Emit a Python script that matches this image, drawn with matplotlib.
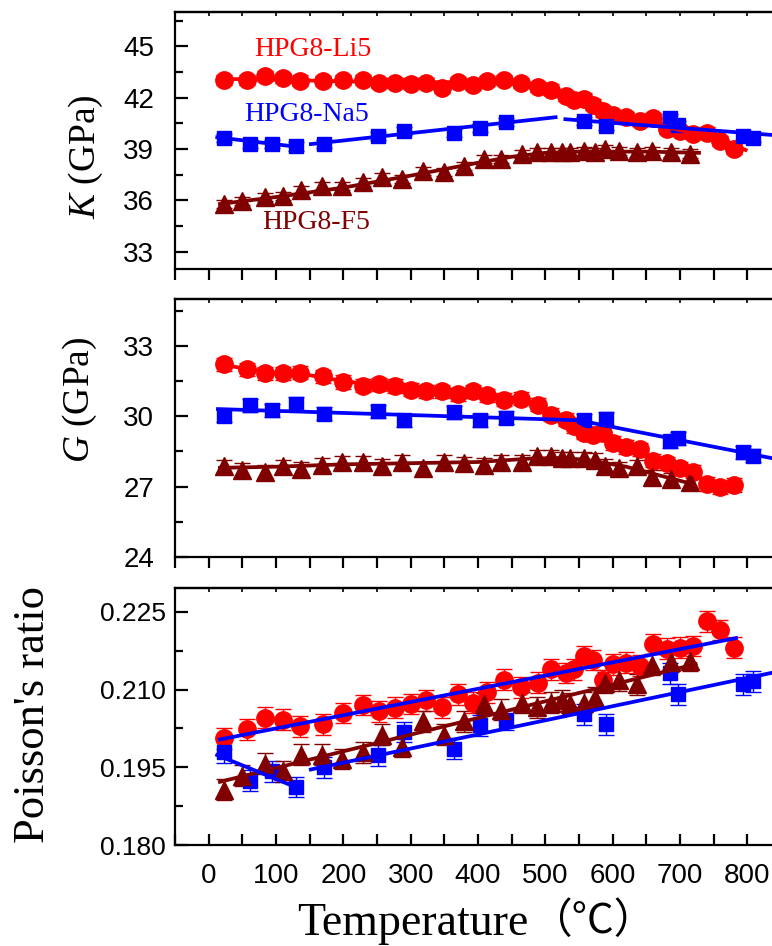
import matplotlib
matplotlib.use("Agg")
import matplotlib.pyplot as plt
from matplotlib.ticker import MultipleLocator, FormatStrFormatter
import numpy as np

plt.rcParams['mathtext.fontset'] = 'custom'
plt.rcParams['mathtext.rm'] = 'Liberation Serif'
plt.rcParams['mathtext.it'] = 'Liberation Serif:italic'

# ---------------- data ----------------
T_li = [23, 57, 83, 111, 136, 170, 200, 229, 253, 277, 300, 323, 347, 370, 393, 414, 439, 464,
        489, 509, 530, 543, 557, 571, 586, 600, 620, 640, 660, 680, 700, 720, 740, 760, 780]
T_na = [23, 61, 94, 130, 171, 251, 290, 365, 403, 442, 557, 590, 685, 697, 794, 809]
T_f = [23, 50, 84, 110, 137, 169, 198, 229, 257, 287, 319, 350, 379, 409, 434, 466, 487, 509,
       525, 537, 557, 574, 589, 610, 636, 659, 686, 715]

K_li = [43.02, 43.05, 43.25, 43.15, 43.0, 42.96, 43.02, 43.05, 42.86, 42.86, 42.82, 42.86, 42.57,
        42.9, 42.76, 42.96, 43.05, 42.86, 42.61, 42.47, 42.09, 41.89, 41.95, 41.6, 41.2, 41.0,
        40.87, 40.64, 40.79, 40.19, 40.05, 39.86, 39.96, 39.47, 38.99]
K_na = [39.63, 39.28, 39.28, 39.15, 39.28, 39.76, 40.06, 39.96, 40.25, 40.6, 40.62, 40.35, 40.79,
        40.42, 39.76, 39.63]
K_f = [35.8, 35.99, 36.18, 36.28, 36.61, 36.86, 36.86, 37.06, 37.35, 37.25, 37.73, 37.64, 38.02,
       38.41, 38.41, 38.7, 38.8, 38.85, 38.8, 38.8, 38.89, 38.8, 38.99, 38.89, 38.8, 38.89, 38.8, 38.74]

G_li = [32.21, 32.0, 31.83, 31.83, 31.86, 31.71, 31.46, 31.31, 31.36, 31.29, 31.14, 31.07, 31.07,
        30.93, 31.07, 30.89, 30.71, 30.74, 30.5, 30.07, 29.86, 29.57, 29.29, 29.21, 29.29, 28.86,
        28.69, 28.6, 28.11, 28.0, 27.79, 27.64, 27.11, 26.97, 27.07]
G_na = [30.03, 30.46, 30.26, 30.54, 30.11, 30.21, 29.83, 30.17, 29.83, 29.93, 29.83, 29.89, 28.93,
        29.07, 28.46, 28.31]
G_f = [27.86, 27.71, 27.64, 27.86, 27.76, 27.93, 28.03, 28.03, 27.89, 28.07, 27.79, 28.07, 28.0,
       27.93, 28.07, 28.07, 28.29, 28.29, 28.21, 28.21, 28.21, 28.14, 27.89, 27.79, 27.86, 27.43,
       27.31, 27.21]

P_li = [0.2006, 0.2023, 0.2046, 0.2042, 0.2029, 0.2033, 0.2055, 0.2070, 0.2058, 0.2065, 0.2072,
        0.2079, 0.2066, 0.2091, 0.2075, 0.2095, 0.2119, 0.2104, 0.2113, 0.2139, 0.2132, 0.2139,
        0.2164, 0.2157, 0.2118, 0.2149, 0.2152, 0.2146, 0.2188, 0.2179, 0.2181, 0.2184, 0.2232,
        0.2215, 0.2181]
P_na = [0.1979, 0.1924, 0.1942, 0.1912, 0.1950, 0.1973, 0.2018, 0.1986, 0.2031, 0.2041, 0.2052,
        0.2033, 0.2131, 0.2091, 0.2110, 0.2116]
P_f = [0.1907, 0.1934, 0.1957, 0.1942, 0.1974, 0.1974, 0.1966, 0.1979, 0.2013, 0.1989, 0.2039,
       0.2013, 0.2039, 0.2073, 0.2061, 0.2075, 0.2066, 0.2075, 0.2079, 0.2073, 0.2075, 0.2084,
       0.2113, 0.2118, 0.2110, 0.2148, 0.2153, 0.2155]

# error bar half-widths
K_err = 0.3
G_err = 0.28
P_err = 0.002

# fit lines
K_li_fit_x = [11, 100, 200, 300, 400, 450, 500, 540, 580, 620, 660, 700, 740, 770, 800]
K_li_fit_y = [43.1, 43.05, 42.95, 42.9, 42.9, 42.85, 42.5, 41.9, 41.2, 40.8, 40.5, 40.1, 39.8, 39.45, 38.9]
K_na_fit = [([10, 140], [39.7, 39.09]), ([149, 518], [39.28, 40.87]), ([527, 838], [40.75, 39.82])]
K_f_fit_x = [14, 100, 200, 300, 400, 450, 500, 550, 650, 731]
K_f_fit_y = [35.78, 36.2, 36.75, 37.45, 38.2, 38.55, 38.78, 38.85, 38.85, 38.78]

G_li_fit_x = [11, 50, 100, 150, 200, 300, 400, 450, 480, 520, 560, 600, 650, 700, 740, 780]
G_li_fit_y = [32.25, 32.05, 31.85, 31.75, 31.5, 31.15, 30.95, 30.8, 30.6, 30.0, 29.4, 28.9, 28.3, 27.8, 27.2, 27.0]
G_na_fit_x = [11, 549, 839]
G_na_fit_y = [30.31, 29.83, 28.2]
G_f_fit_x = [14, 100, 200, 300, 400, 480, 520, 560, 620, 680, 715]
G_f_fit_y = [27.8, 27.85, 27.95, 28.0, 28.05, 28.2, 28.22, 28.15, 27.85, 27.4, 27.14]

P_na_fit = [([10, 140], [0.1975, 0.1906]), ([149, 839], [0.1945, 0.2133])]
P_li_fit = ([14, 786], [0.2003, 0.2200])
P_f_fit = ([14, 726], [0.1921, 0.2150])

x_ticks = [0, 100, 200, 300, 400, 500, 600, 700, 800]

RED = '#ff0000'
BLUE = '#0000ff'
DRED = '#800000'

# ---------------- figure ----------------
W, H = 772, 946
fig = plt.figure(figsize=(W / 100, H / 100), dpi=100)

def rect(top, bottom):
    return [175 / W, 1 - bottom / H, 606 / W, (bottom - top) / H]

ax1 = fig.add_axes(rect(12, 269))
ax2 = fig.add_axes(rect(299, 557))
ax3 = fig.add_axes(rect(588, 845))

def pts(ax, x, y, err, color, marker, ms):
    ax.errorbar(x, y, yerr=err, fmt=marker, color=color, ms=ms, mec=color,
                ecolor=color, elinewidth=1.0, capsize=5.5, capthick=1.0, zorder=3)

def fitline(ax, x, y, color):
    ax.plot(x, y, '-', color=color, lw=2.7, zorder=4, solid_capstyle='butt')

MS_O, MS_S, MS_T = 12.5, 10.5, 12.5

# K panel
pts(ax1, T_li, K_li, K_err, RED, 'o', MS_O)
pts(ax1, T_na, K_na, K_err * 0.8, BLUE, 's', MS_S)
pts(ax1, T_f, K_f, K_err * 0.8, DRED, '^', MS_T)
fitline(ax1, K_li_fit_x, K_li_fit_y, RED)
fitline(ax1, K_f_fit_x, K_f_fit_y, DRED)
for xs, ys in K_na_fit:
    fitline(ax1, xs, ys, BLUE)

# G panel
pts(ax2, T_li, G_li, G_err, RED, 'o', MS_O)
pts(ax2, T_na, G_na, G_err, BLUE, 's', MS_S)
pts(ax2, T_f, G_f, G_err, DRED, '^', MS_T)
fitline(ax2, G_li_fit_x, G_li_fit_y, RED)
fitline(ax2, G_f_fit_x, G_f_fit_y, DRED)
fitline(ax2, G_na_fit_x, G_na_fit_y, BLUE)

# Poisson panel
pts(ax3, T_li, P_li, P_err, RED, 'o', MS_O)
pts(ax3, T_na, P_na, P_err, BLUE, 's', MS_S)
pts(ax3, T_f, P_f, P_err, DRED, '^', MS_T)
fitline(ax3, P_f_fit[0], P_f_fit[1], DRED)
fitline(ax3, P_li_fit[0], P_li_fit[1], BLUE)
for xs, ys in P_na_fit:
    fitline(ax3, xs, ys, BLUE)

# axes formatting
ylims = [(32, 47), (24, 35), (0.180, 0.2296)]
ymaj = [3, 3, 0.015]
ymin = [1.5, 1.5, 0.0075]
yfmt = ['%d', '%d', '%.3f']
ypad = [15, 15, 6.5]
ysize = [20, 20, 19]
for i, ax in enumerate([ax1, ax2, ax3]):
    ax.set_xlim(-50, 850)
    ax.set_ylim(*ylims[i])
    ax.xaxis.set_major_locator(MultipleLocator(100))
    ax.xaxis.set_minor_locator(MultipleLocator(50))
    ax.yaxis.set_major_locator(MultipleLocator(ymaj[i]))
    ax.yaxis.set_minor_locator(MultipleLocator(ymin[i]))
    ax.yaxis.set_major_formatter(FormatStrFormatter(yfmt[i]))
    for sp in ax.spines.values():
        sp.set_linewidth(1.6)
    ax.tick_params(axis='y', which='both', direction='in', width=1.6, left=True, right=False,
                   labelsize=ysize[i], pad=ypad[i])
    ax.tick_params(axis='y', which='major', length=9)
    ax.tick_params(axis='y', which='minor', length=6)
    xdir = 'in' if i == 2 else 'out'
    ax.tick_params(axis='x', which='both', direction=xdir, length=8, width=1.6, top=False,
                   labelbottom=(i == 2), labelsize=20, pad=13)
    sec = ax.secondary_xaxis('top')
    sec.xaxis.set_major_locator(MultipleLocator(50))
    sec.tick_params(axis='x', direction='in', length=3, width=1.2, labeltop=False)
    sec.spines['top'].set_linewidth(1.6)
    for lab in ax.get_xticklabels() + ax.get_yticklabels():
        lab.set_fontfamily(['Liberation Sans', 'DejaVu Sans'])

ax3.set_xticks(x_ticks)

# series labels
ax1.text(155, 44.8, 'HPG8-Li5', color=RED, fontsize=20, family='Liberation Serif', ha='center', va='center')
ax1.text(145, 41.0, 'HPG8-Na5', color=BLUE, fontsize=20, family='Liberation Serif', ha='center', va='center')
ax1.text(160, 34.73, 'HPG8-F5', color=DRED, fontsize=20, family='Liberation Serif', ha='center', va='center')

# axis labels
fig.text(86 / W, 1 - 157 / H, r'$K$ (GPa)', rotation=90, ha='center', va='center',
         fontsize=27, family='Liberation Serif')
fig.text(80 / W, 1 - 400 / H, r'$G$ (GPa)', rotation=90, ha='center', va='center',
         fontsize=27, family='Liberation Serif')
fig.text(33 / W, 1 - 714 / H, "Poisson's ratio", rotation=90, ha='center', va='center',
         fontsize=32, family='Liberation Serif')
fig.text(297 / W, 1 - 935 / H, 'Temperature', ha='left', va='baseline',
         fontsize=33, family='Liberation Serif')
fig.text(530 / W, 1 - 933 / H, '（°C）', ha='left', va='baseline',
         fontsize=30, family=['Noto Sans CJK SC', 'DejaVu Sans'])

fig.savefig('out.png', dpi=100)
